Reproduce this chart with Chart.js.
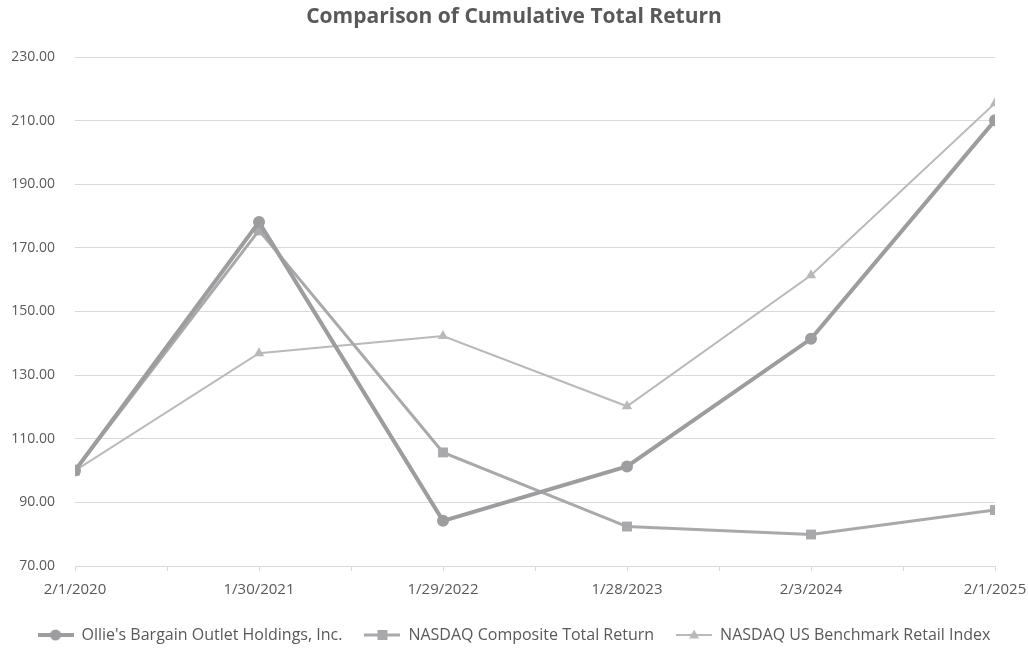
<!DOCTYPE html>
<html>
<head>
<meta charset="utf-8">
<script src="https://cdn.jsdelivr.net/npm/chart.js@4/dist/chart.umd.min.js"></script>
<style>
  html, body { margin: 0; padding: 0; background: #ffffff; }
  #wrap { width: 1028px; height: 653px; }
</style>
</head>
<body>
<div id="wrap"><canvas id="c" width="1028" height="653"></canvas></div>
<script>
const chartTitle = 'Comparison of Cumulative Total Return';
const categories = ['2/1/2020', '1/30/2021', '1/29/2022', '1/28/2023', '2/3/2024', '2/1/2025'];
const seriesNames = ["Ollie's Bargain Outlet Holdings, Inc.", 'NASDAQ Composite Total Return', 'NASDAQ US Benchmark Retail Index'];
const ollies = [100, 178.1, 84.2, 101.3, 141.4, 210.1];
const nasdaqComposite = [100, 175.5, 105.7, 82.4, 79.9, 87.6];
const retailIndex = [100, 136.9, 142.3, 120.2, 161.4, 215.5];
const yMin = 70, yMax = 230, yStep = 20;

const FONT = "'Open Sans', 'DejaVu Sans', sans-serif";
const TEXT = '#595959';
const styles = [
  { color: '#9d9d9f', width: 4, point: 'circle', radius: 6 },
  { color: '#a9a9ab', width: 3, point: 'rect', radius: 7 },
  { color: '#b9b9bb', width: 2, point: 'triangle', radius: 6 }
];
const seriesValues = [ollies, nasdaqComposite, retailIndex];

function legendImage(st) {
  const cv = document.createElement('canvas');
  cv.width = 36; cv.height = 16;
  const g = cv.getContext('2d');
  g.strokeStyle = st.color; g.fillStyle = st.color; g.lineWidth = st.width;
  g.beginPath(); g.moveTo(0, 8); g.lineTo(36, 8); g.stroke();
  if (st.point === 'circle') { g.beginPath(); g.arc(18, 8, 5.5, 0, Math.PI * 2); g.fill(); }
  else if (st.point === 'rect') { g.fillRect(13, 3, 10, 10); }
  else { g.beginPath(); g.moveTo(18, 2.5); g.lineTo(23, 11.5); g.lineTo(13, 11.5); g.closePath(); g.fill(); }
  return cv;
}
const legendImgs = styles.map(legendImage);

const datasets = seriesValues.map((vals, i) => ({
  label: seriesNames[i],
  data: vals.map((v, k) => ({ x: k, y: v })),
  borderColor: styles[i].color,
  backgroundColor: styles[i].color,
  borderWidth: styles[i].width,
  pointStyle: styles[i].point,
  pointRadius: styles[i].radius,
  pointHoverRadius: styles[i].radius,
  pointBorderWidth: 0,
  pointBackgroundColor: styles[i].color,
  tension: 0
}));

new Chart(document.getElementById('c'), {
  type: 'line',
  data: { datasets },
  options: {
    responsive: false,
    animation: false,
    layout: { padding: { left: 0, right: 0, top: 0, bottom: 0 } },
    plugins: {
      title: {
        display: true, text: chartTitle, color: TEXT,
        font: { family: FONT, size: 21, weight: 'bold' },
        padding: { top: 4.4, bottom: 27.4 }
      },
      legend: {
        position: 'bottom',
        labels: {
          color: TEXT,
          font: { family: FONT, size: 16 },
          usePointStyle: true,
          pointStyleWidth: 36,
          padding: 22,
          generateLabels(chart) {
            const items = Chart.defaults.plugins.legend.labels.generateLabels(chart);
            items.forEach((it, i) => { it.pointStyle = legendImgs[i]; });
            return items;
          }
        }
      },
      tooltip: { enabled: false }
    },
    scales: {
      x: {
        type: 'linear', min: 0, max: categories.length - 1,
        ticks: {
          stepSize: 0.5, autoSkip: false, maxRotation: 0, padding: 10,
          color: TEXT, font: { family: FONT, size: 15 },
          callback: (v) => Number.isInteger(v) ? categories[v] : ''
        },
        grid: { drawOnChartArea: false, drawTicks: true, tickLength: 5, color: '#d9d9d9' },
        border: { display: true, color: '#d9d9d9', width: 1 },
        afterFit(scale) { scale.height = 39; scale.paddingLeft = 0; scale.paddingRight = 0; }
      },
      y: {
        min: yMin, max: yMax,
        ticks: {
          stepSize: yStep, padding: 20, color: TEXT,
          font: { family: FONT, size: 14 },
          callback: (v) => Number(v).toFixed(2)
        },
        grid: { color: '#d9d9d9', lineWidth: 1, drawTicks: false },
        border: { display: false },
        afterFit(scale) { scale.width = 75; }
      },
      ySpacer: {
        type: 'linear', position: 'right', min: yMin, max: yMax,
        ticks: { display: false },
        grid: { display: false, drawOnChartArea: false },
        border: { display: false },
        afterFit(scale) { scale.width = 33; }
      }
    }
  }
});
</script>
</body>
</html>
